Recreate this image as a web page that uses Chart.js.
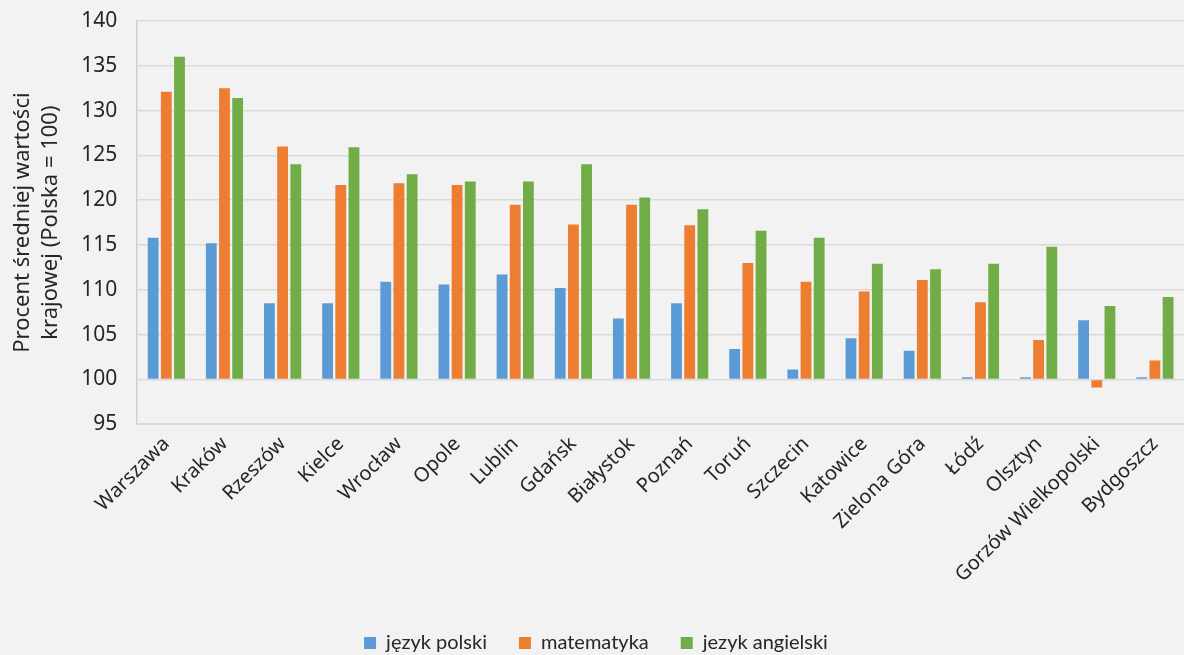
<!DOCTYPE html>
<html>
<head>
<meta charset="utf-8">
<script src="https://cdn.jsdelivr.net/npm/chart.js@4/dist/chart.umd.min.js"></script>
<style>
  body { margin: 0; background: #f2f2f2; }
  #wrap { width: 1184px; height: 655px; }
</style>
</head>
<body>
<div id="wrap"><canvas id="chart"></canvas></div>
<script>
// miasta (kolejność jak na wykresie)
const cities = ["Warszawa", "Kraków", "Rzeszów", "Kielce", "Wrocław", "Opole", "Lublin", "Gdańsk", "Białystok",
  "Poznań", "Toruń", "Szczecin", "Katowice", "Zielona Góra", "Łódź", "Olsztyn", "Gorzów Wielkopolski", "Bydgoszcz"];

// procent średniej krajowej (Polska = 100)
const polski = [115.8, 115.2, 108.5, 108.5, 110.9, 110.6, 111.7, 110.2, 106.8, 108.5, 103.4, 101.1, 104.6, 103.2, 100.25, 100.25, 106.6, 100.25];
const matematyka = [132.1, 132.5, 126.0, 121.7, 121.9, 121.7, 119.5, 117.3, 119.5, 117.2, 113.0, 110.9, 109.8, 111.1, 108.6, 104.4, 99.1, 102.1];
const angielski = [136.0, 131.4, 124.0, 125.9, 122.9, 122.1, 122.1, 124.0, 120.3, 119.0, 116.6, 115.8, 112.9, 112.3, 112.9, 114.8, 108.2, 109.2];

const yTicks = [95, 100, 105, 110, 115, 120, 125, 130, 135, 140];

const FONT = "Noto Sans";

const mkSet = (label, data, color) => ({
  label: label,
  data: data,
  base: 100,
  backgroundColor: color,
  borderWidth: 0,
  categoryPercentage: 0.68,
  barPercentage: 0.82,
});

const ctx = document.getElementById("chart");
new Chart(ctx, {
  type: "bar",
  data: {
    labels: cities,
    datasets: [
      mkSet("język polski", polski, "#5b9bd5"),
      mkSet("matematyka", matematyka, "#ed7d31"),
      mkSet("jezyk angielski", angielski, "#70ad47"),
    ],
  },
  options: {
    responsive: true,
    maintainAspectRatio: false,
    animation: false,
    layout: { padding: { left: 8, right: 0, top: 0, bottom: -8 } },
    plugins: {
      legend: {
        position: "bottom",
        labels: {
          boxWidth: 12,
          boxHeight: 12,
          padding: 32,
          color: "#262626",
          font: { family: "Lato", size: 20 },
        },
      },
      tooltip: { enabled: false },
    },
    scales: {
      x: {
        grid: { display: false, drawTicks: false },
        border: { color: "#d9d9d9" },
        afterFit: (axis) => { axis.height += 6; axis.paddingLeft = 0; },
        ticks: {
          minRotation: 45,
          maxRotation: 45,
          color: "#262626",
          padding: 8,
          font: { family: FONT, size: 20 },
        },
      },
      y: {
        min: 95,
        max: 140,
        afterBuildTicks: (axis) => { axis.ticks = yTicks.map(v => ({ value: v })); },
        afterFit: (axis) => { axis.paddingTop = 21; axis.width -= 17; },
        grid: { color: "#d9d9d9", lineWidth: 1.5, drawTicks: false },
        border: { color: "#d0d0d0", width: 1.5 },
        ticks: {
          color: "#262626",
          padding: 20,
          font: { family: FONT, size: 21 },
        },
        title: {
          display: true,
          text: ["Procent średniej wartości", "krajowej (Polska = 100)"],
          color: "#262626",
          font: { family: FONT, size: 22, lineHeight: 1.3 },
          padding: { top: 0, bottom: 13 },
        },
      },
    },
  },
});
</script>
</body>
</html>
